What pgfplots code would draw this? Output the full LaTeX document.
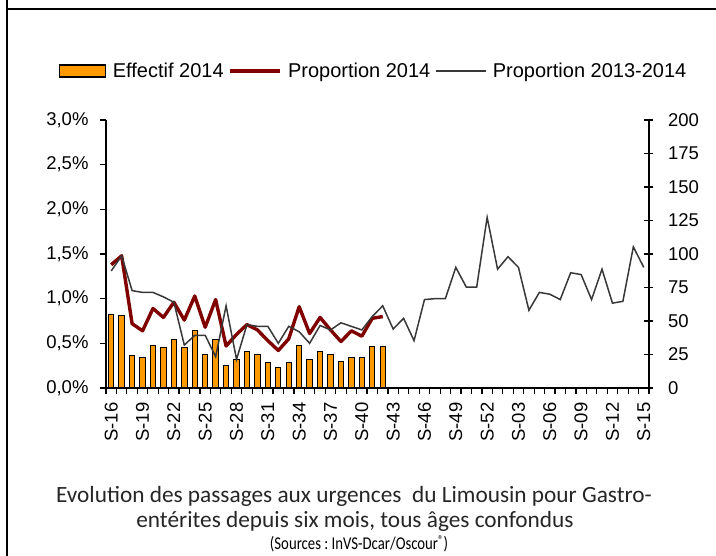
\documentclass[border=0pt]{standalone}
\usepackage{fontspec}
\setmainfont{Liberation Sans}
\newfontfamily\capfont{Carlito}
\usepackage{pgfplots}
\pgfplotsset{compat=1.18}

\definecolor{barorange}{RGB}{255,153,0}
\definecolor{darkred}{RGB}{128,0,0}
\definecolor{greyline}{RGB}{56,56,56}

\pgfplotsset{
  common/.style={
    at={(106pt,-388pt)}, anchor=south west,
    scale only axis, width=543pt, height=268pt,
    xmin=-0.5, xmax=51.5,
    axis line style={line width=1.3pt, black},
    tick style={line width=1.2pt, black},
    tick label style={font=\fontsize{18.5}{22}\selectfont},
    /pgf/number format/assume math mode=true,
  },
}

\begin{document}
\begin{tikzpicture}
\path[use as bounding box] (0pt,0pt) rectangle (716pt,-556pt);

% frame
\draw[line width=2pt] (6.5pt,0pt) -- (6.5pt,-556pt);
\draw[line width=2pt] (5.5pt,-9pt) -- (716pt,-9pt);

% Effectif 2014 (right axis)
\begin{axis}[common,
    ymin=0, ymax=200,
    axis y line*=right, axis x line=none,
    ytick={0,25,...,200},
    tick align=center, major tick length=9pt,
    yticklabel style={xshift=11pt},
    ybar, bar width=5.4pt,
]
\addplot[fill=barorange, draw=black, line width=1pt] coordinates {
 (0,55) (1,54) (2,24) (3,23) (4,32) (5,30) (6,36) (7,30) (8,43) (9,25)
 (10,36) (11,17) (12,21) (13,27) (14,25) (15,19) (16,15) (17,19) (18,32)
 (19,21) (20,27) (21,25) (22,20) (23,23) (24,23) (25,31) (26,31)
};
\end{axis}

% proportions (left axis)
\begin{axis}[common,
    ymin=0, ymax=3,
    axis y line*=left, axis x line*=bottom,
    ytick={0,0.5,...,3},
    yticklabels={{0,0\%},{0,5\%},{1,0\%},{1,5\%},{2,0\%},{2,5\%},{3,0\%}},
    tick align=outside, major tick length=6pt,
    yticklabel style={xshift=-8pt},
    xtick={-0.5,0.5,...,51.5}, xticklabels={},
    extra x ticks={0,3,...,51},
    extra x tick labels={S-16,S-19,S-22,S-25,S-28,S-31,S-34,S-37,S-40,S-43,S-46,S-49,S-52,S-03,S-06,S-09,S-12,S-15},
    extra x tick style={major tick length=0pt,
      xticklabel style={rotate=90, anchor=east, xshift=-11pt}},
    legend columns=3,
    legend style={at={(0.493,1.183)}, anchor=center, draw=none, fill=none,
      font=\fontsize{20}{22}\selectfont,
      /tikz/every even column/.append style={column sep=3pt}},
    legend image code/.code={\draw[#1] (0pt,0pt) -- (50pt,0pt); \path (54pt,0pt);},
]
\addlegendimage{legend image code/.code={\draw[fill=barorange, draw=black, line width=1.2pt] (0pt,-6pt) rectangle (46pt,6pt); \path (51pt,0pt);}}
\addlegendentry{Effectif 2014}

\addplot[darkred, line width=3.4pt, line join=round] coordinates {
 (0,1.38) (1,1.48) (2,0.72) (3,0.64) (4,0.89) (5,0.79) (6,0.96) (7,0.76)
 (8,1.03) (9,0.68) (10,0.99) (11,0.47) (12,0.60) (13,0.71) (14,0.65)
 (15,0.53) (16,0.42) (17,0.55) (18,0.91) (19,0.61) (20,0.79) (21,0.65)
 (22,0.52) (23,0.64) (24,0.58) (25,0.78) (26,0.80)
};
\addlegendentry{Proportion 2014}

\addplot[greyline, line width=1.5pt] coordinates {
 (0,1.31) (1,1.48) (2,1.09) (3,1.07) (4,1.07) (5,1.02) (6,0.96) (7,0.48)
 (8,0.59) (9,0.59) (10,0.35) (11,0.92) (12,0.32) (13,0.71) (14,0.69)
 (15,0.69) (16,0.50) (17,0.69) (18,0.63) (19,0.50) (20,0.70) (21,0.65)
 (22,0.73) (23,0.69) (24,0.65) (25,0.80) (26,0.92) (27,0.66) (28,0.78)
 (29,0.53) (30,0.99) (31,1.00) (32,1.00) (33,1.35) (34,1.13) (35,1.13)
 (36,1.91) (37,1.33) (38,1.47) (39,1.35) (40,0.87) (41,1.07) (42,1.05)
 (43,0.99) (44,1.29) (45,1.27) (46,0.99) (47,1.33) (48,0.95) (49,0.97)
 (50,1.58) (51,1.35)
};
\addlegendentry{Proportion 2013-2014}
\end{axis}

% caption
\node[font=\capfont\fontsize{23.3}{27}\selectfont, text=black!85] at (354pt,-496pt)
  {Evolution des passages aux urgences\ \ du Limousin pour Gastro-};
\node[font=\capfont\fontsize{23.3}{27}\selectfont, text=black!85] at (355pt,-521pt)
  {entérites depuis six mois, tous âges confondus};
\node[font=\capfont\fontsize{18}{20}\selectfont, xscale=0.82, transform shape] at (359pt,-544pt)
  {(Sources~:~InVS-Dcar/Oscour\raisebox{0.55ex}{\fontsize{13}{13}\selectfont ®})};
\end{tikzpicture}
\end{document}
